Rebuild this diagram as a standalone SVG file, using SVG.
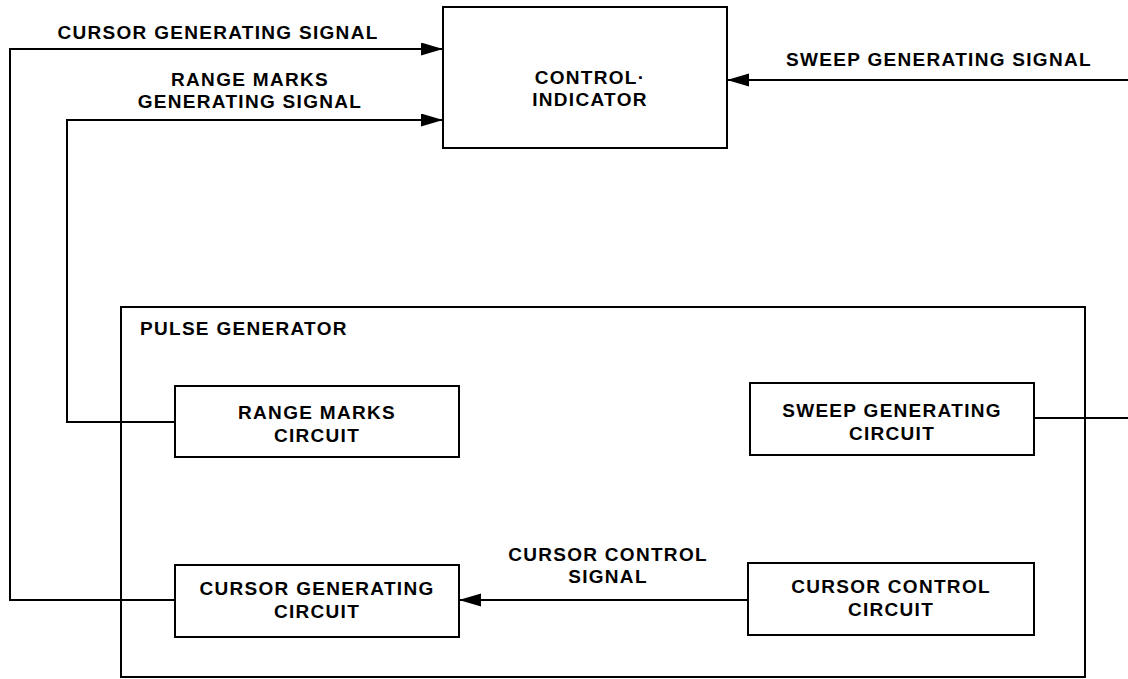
<svg xmlns="http://www.w3.org/2000/svg" width="1128" height="679" viewBox="0 0 1128 679">
<defs>
<style>
.box{fill:#fff;stroke:#000;stroke-width:2}
.frame{fill:none;stroke:#000;stroke-width:2}
.wire{fill:none;stroke:#000;stroke-width:2}
text{font-family:"Liberation Sans",Arial,sans-serif;font-weight:bold;font-size:19px;letter-spacing:1.3px;fill:#000;text-anchor:middle}
text.l{text-anchor:start}
</style>
<marker id="arr" markerUnits="userSpaceOnUse" markerWidth="24" markerHeight="14" refX="22" refY="6.5" orient="auto">
<path d="M0,0 L22,6.5 L0,13 Z" fill="#000"/>
</marker>
</defs>
<rect width="1128" height="679" fill="#fff"/>
<g id="pulse-generator">
<rect class="frame" x="121" y="307" width="964" height="370"/>
<text class="l" x="140" y="335">PULSE GENERATOR</text>
</g>
<g id="connectors">
<path class="wire" d="M175,600 H10 V49 H443" marker-end="url(#arr)"/>
<path class="wire" d="M175,422 H67 V120 H443" marker-end="url(#arr)"/>
<path class="wire" d="M1034,418 H1128"/>
<path class="wire" d="M1128,80 H727" marker-end="url(#arr)"/>
<path class="wire" d="M748,600 H459" marker-end="url(#arr)"/>
<text x="218" y="39">CURSOR GENERATING SIGNAL</text>
<text x="250" y="86">RANGE MARKS</text>
<text x="250" y="108">GENERATING SIGNAL</text>
<text x="939" y="66">SWEEP GENERATING SIGNAL</text>
<text x="608" y="561">CURSOR CONTROL</text>
<text x="608" y="583">SIGNAL</text>
</g>
<g id="control-indicator">
<rect class="box" x="443" y="7" width="284" height="141"/>
<text x="590" y="84">CONTROL·</text>
<text x="590" y="106">INDICATOR</text>
</g>
<g id="range-marks-circuit">
<rect class="box" x="175" y="386" width="284" height="71"/>
<text x="317" y="419">RANGE MARKS</text>
<text x="317" y="442">CIRCUIT</text>
</g>
<g id="sweep-generating-circuit">
<rect class="box" x="750" y="383" width="284" height="72"/>
<text x="892" y="417">SWEEP GENERATING</text>
<text x="892" y="440">CIRCUIT</text>
</g>
<g id="cursor-generating-circuit">
<rect class="box" x="175" y="565" width="284" height="72"/>
<text x="317" y="595">CURSOR GENERATING</text>
<text x="317" y="618">CIRCUIT</text>
</g>
<g id="cursor-control-circuit">
<rect class="box" x="748" y="563" width="286" height="72"/>
<text x="891" y="593">CURSOR CONTROL</text>
<text x="891" y="616">CIRCUIT</text>
</g>
</svg>
